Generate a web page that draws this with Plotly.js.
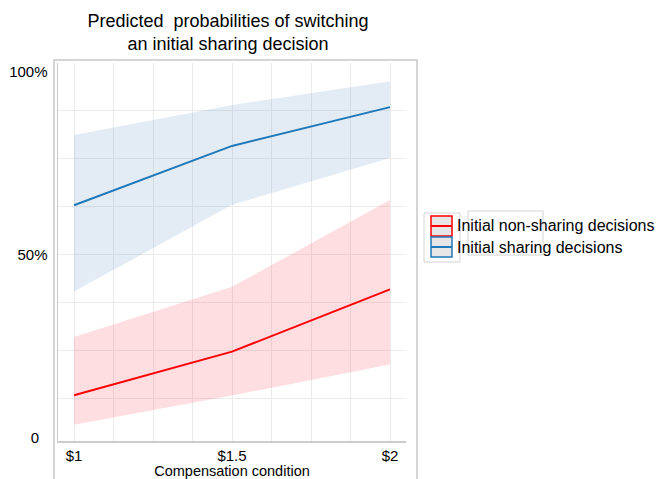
<!DOCTYPE html>
<html>
<head>
<meta charset="utf-8">
<script src="https://cdn.plot.ly/plotly-3.0.1.min.js"></script>
<style>html,body{margin:0;padding:0;background:#fff;}#chart{width:656px;height:479px;}</style>
</head>
<body>
<div id="chart"></div>
<script>
// ---- data ----
const conditions = [1, 1.5, 2];
const conditionLabels = ['$1', '$1.5', '$2'];
const seriesNames = ['Initial non-sharing decisions', 'Initial sharing decisions'];
const nonSharingMean  = [0.117, 0.236, 0.406];
const nonSharingLower = [0.036, 0.116, 0.201];
const nonSharingUpper = [0.276, 0.413, 0.650];
const sharingMean  = [0.636, 0.798, 0.904];
const sharingLower = [0.400, 0.637, 0.765];
const sharingUpper = [0.828, 0.910, 0.975];
const yTickVals = [0, 0.5, 1];
const yTickText = ['0\u00a0\u00a0', '50%', '100%'];

// ---- styles ----
const red = '#ff0000', blue = '#1f78b8';
const redFill = 'rgba(255,60,80,0.17)', blueFill = 'rgba(70,130,190,0.15)';
const font = 'Liberation Sans, Arial, Helvetica, sans-serif';

function band(lower, upper, fill) {
  return {
    x: conditions.concat(conditions.slice().reverse()),
    y: upper.concat(lower.slice().reverse()),
    type: 'scatter', mode: 'lines', fill: 'toself', fillcolor: fill,
    line: {width: 0}, hoverinfo: 'skip', showlegend: false
  };
}
function line(mean, color, name) {
  return {x: conditions, y: mean, type: 'scatter', mode: 'lines', name: name,
          line: {color: color, width: 2}, showlegend: false};
}

const traces = [
  band(nonSharingLower, nonSharingUpper, redFill),
  band(sharingLower, sharingUpper, blueFill),
  line(nonSharingMean, red, seriesNames[0]),
  line(sharingMean, blue, seriesNames[1])
];

// paper helpers (plot area: x 58..406 px, y 63..441 px)
const PX = p => (p - 58) / 348;
const PY = p => (441 - p) / 378;

const shapes = [
  // outer frame
  {type:'rect', xref:'paper', yref:'paper', x0:PX(54), x1:PX(417), y0:PY(490), y1:PY(60),
   line:{color:'#c8c8c8', width:1.5}, layer:'below'},
  // stray legend frames
  {type:'rect', xref:'paper', yref:'paper', x0:PX(424), x1:PX(460), y0:PY(262), y1:PY(213),
   line:{color:'#d4d4d4', width:1}},
  {type:'rect', xref:'paper', yref:'paper', x0:PX(468), x1:PX(543), y0:PY(255), y1:PY(211),
   line:{color:'#d4d4d4', width:1}},
  // legend keys
  {type:'rect', xref:'paper', yref:'paper', x0:PX(431), x1:PX(452), y0:PY(236), y1:PY(216),
   fillcolor:'#e6e6e6', line:{color:red, width:1.5}},
  {type:'line', xref:'paper', yref:'paper', x0:PX(431), x1:PX(452), y0:PY(226), y1:PY(226),
   line:{color:red, width:2}},
  {type:'rect', xref:'paper', yref:'paper', x0:PX(431), x1:PX(452), y0:PY(257), y1:PY(237),
   fillcolor:'#e6e6e6', line:{color:blue, width:1.5}},
  {type:'line', xref:'paper', yref:'paper', x0:PX(431), x1:PX(452), y0:PY(247), y1:PY(247),
   line:{color:blue, width:2}}
];

const annotations = [
  {xref:'paper', yref:'paper', x:PX(455), y:PY(226), xanchor:'left', yanchor:'middle',
   text:seriesNames[0], showarrow:false, font:{family:font, size:16, color:'#000'}},
  {xref:'paper', yref:'paper', x:PX(455), y:PY(247), xanchor:'left', yanchor:'middle',
   text:seriesNames[1], showarrow:false, font:{family:font, size:16, color:'#000'}}
];

const layout = {
  width: 656, height: 479,
  margin: {l: 58, r: 250, t: 63, b: 38, pad: 0},
  paper_bgcolor: '#fff', plot_bgcolor: '#fff',
  font: {family: font, color: '#000'},
  showlegend: false,
  title: {
    text: 'Predicted\u00a0 probabilities of switching<br>an initial sharing decision',
    x: 228/656, xanchor: 'center', xref: 'container',
    y: 1 - 27/479, yanchor: 'top', yref: 'container',
    font: {family: font, size: 18, color: '#000'}
  },
  xaxis: {
    range: [1 - 16/316, 2 + 16/316],
    tickmode: 'array', tickvals: conditions, ticktext: conditionLabels,
    showgrid: true, gridcolor: '#ebebeb', gridwidth: 1,
    minor: {tickmode: 'linear', tick0: 1, dtick: 0.125, showgrid: true, gridcolor: '#ebebeb', gridwidth: 1},
    zeroline: false, showline: true, linecolor: '#cccccc', linewidth: 1.5,
    ticks: '', tickfont: {family: font, size: 15, color: '#000'},
    title: {text: 'Compensation condition', font: {family: font, size: 14.5, color: '#000'}, standoff: 1},
    fixedrange: true
  },
  yaxis: {
    range: [-3/366, 1 + 9/366],
    tickmode: 'array', tickvals: yTickVals, ticktext: yTickText,
    showgrid: false,
    minor: {tickmode: 'linear', tick0: 0.1074, dtick: 0.1312, showgrid: true, gridcolor: '#ebebeb', gridwidth: 1},
    zeroline: false, showline: true, linecolor: '#cccccc', linewidth: 1.5,
    ticks: '', ticklabelstandoff: 6, tickfont: {family: font, size: 15, color: '#000'},
    fixedrange: true
  },
  shapes: shapes,
  annotations: annotations
};

Plotly.newPlot('chart', traces, layout, {displayModeBar: false, staticPlot: true});
</script>
</body>
</html>
